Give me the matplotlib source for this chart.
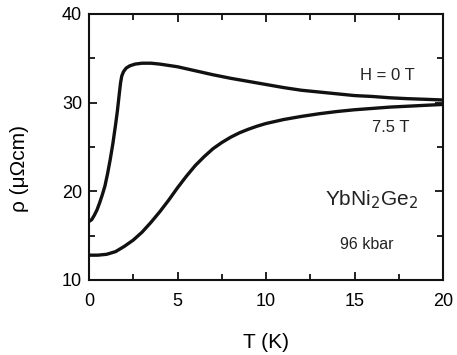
import matplotlib
matplotlib.use("Agg")
import matplotlib.pyplot as plt
import numpy as np

# Data
T_h0 = [0, 0.15, 0.3, 0.45, 0.6, 0.75, 0.9, 1.05, 1.2, 1.35, 1.5, 1.6, 1.7, 1.78, 1.85, 1.95, 2.1, 2.3,
        2.6, 3.0, 3.5, 4, 4.5, 5, 6, 7, 8, 9, 10, 11, 12, 13, 14, 15, 16, 17, 18, 19, 20]
rho_h0 = [16.6, 16.8, 17.3, 17.9, 18.7, 19.6, 20.6, 22.0, 23.6, 25.4, 27.5, 29.0, 30.8, 32.2, 33.0, 33.5,
          33.9, 34.15, 34.35, 34.45, 34.45, 34.35, 34.2, 34.05, 33.6, 33.15, 32.75, 32.4, 32.05, 31.7,
          31.4, 31.2, 31.0, 30.8, 30.7, 30.55, 30.45, 30.38, 30.3]
T_h75 = [0, 0.5, 1.0, 1.5, 2.0, 2.5, 3.0, 3.5, 4.0, 4.5, 5.0, 5.5, 6.0, 6.5, 7.0, 7.5, 8, 8.5, 9, 9.5,
         10, 11, 12, 13, 14, 15, 16, 17, 18, 19, 20]
rho_h75 = [12.8, 12.8, 12.9, 13.2, 13.8, 14.5, 15.4, 16.5, 17.7, 19.0, 20.4, 21.7, 22.9, 23.9, 24.8,
           25.5, 26.1, 26.6, 27.0, 27.35, 27.65, 28.1, 28.45, 28.75, 29.0, 29.2, 29.35, 29.5, 29.6,
           29.7, 29.8]

x_ticks = [0, 5, 10, 15, 20]
y_ticks = [10, 20, 30, 40]

plt.rcParams['font.family'] = ['Liberation Sans', 'DejaVu Sans']

fig = plt.figure(figsize=(4.57, 3.55), dpi=100)
ax = fig.add_axes([89/457, 1 - 280/355, (443-89)/457, (280-14)/355])

ax.plot(T_h0, rho_h0, color='#111111', lw=2.4, solid_joinstyle='round')
ax.plot(T_h75, rho_h75, color='#111111', lw=2.4, solid_joinstyle='round')

ax.set_xlim(0, 20)
ax.set_ylim(10, 40)
ax.set_xticks(x_ticks)
ax.set_yticks(y_ticks)
ax.set_xticks(np.arange(0, 20.1, 2.5), minor=True)
ax.set_yticks(np.arange(10, 40.1, 5), minor=True)
ax.tick_params(which='both', direction='in', top=True, right=True, width=1.3, labelsize=13, color='#111111')
ax.tick_params(which='major', length=6)
ax.tick_params(which='minor', length=4)
ax.tick_params(axis='x', pad=9)
ax.tick_params(axis='y', pad=5)
for s in ax.spines.values():
    s.set_linewidth(1.5)
    s.set_color('#111111')

ax.set_xlabel('T (K)', fontsize=15)
ax.xaxis.set_label_coords(0.5, -0.2)
ax.set_ylabel('ρ (μΩcm)', fontsize=15)
ax.yaxis.set_label_coords(-0.17, 0.42)

ax.text(0.92, 0.767, 'H = 0 T', transform=ax.transAxes, fontsize=12, ha='right', va='center', color='#222222')
ax.text(0.905, 0.575, '7.5 T', transform=ax.transAxes, fontsize=12, ha='right', va='center', color='#222222')
ax.text(0.93, 0.30, r'YbNi$_2$Ge$_2$', transform=ax.transAxes, fontsize=15, ha='right', va='center', color='#222222')
ax.text(0.86, 0.135, '96 kbar', transform=ax.transAxes, fontsize=11.5, ha='right', va='center', color='#222222')

fig.savefig('out.png', dpi=100)
